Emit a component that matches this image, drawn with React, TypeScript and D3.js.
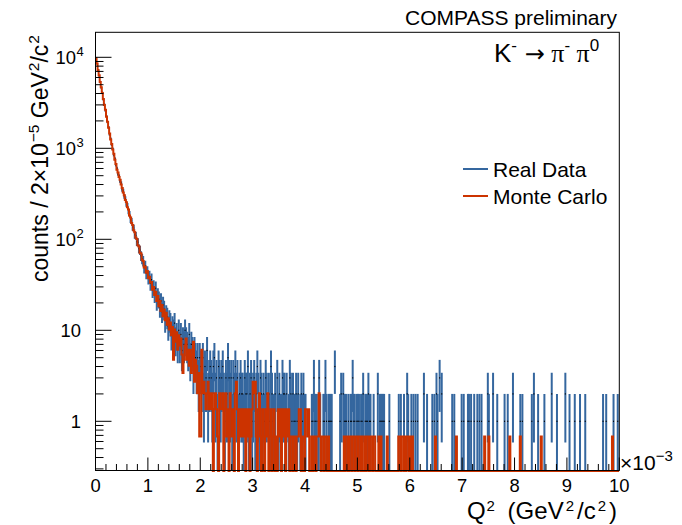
import React from 'react';
import * as d3 from 'd3';

// ---------- data (Q^2 in units of 1e-3 GeV^2/c^2, bin width 0.02) ----------
const X_MIN = 0;
const X_MAX = 10;
const BIN_WIDTH = 0.02;
const MC_WEIGHT = 0.679;

// Real data counts, bins 0..99 (Q^2 0 - 2)
const dataHead = [
  9810, 8470, 7320, 6240, 5420, 4610, 4120, 3420, 3060, 2580,
  2270, 1930, 1720, 1410, 1275, 1090, 991, 842, 770, 655,
  601, 522, 498, 436, 415, 352, 340, 296, 281, 243,
  236, 203, 191, 164, 159, 136, 133, 112, 110, 94,
  93, 79, 76, 66, 61, 58, 49, 51, 43, 44,
  38, 39, 33, 36, 28, 30, 25, 29, 21, 24,
  22, 18, 21, 16, 19, 17, 13, 15, 14, 11,
  13, 12, 9, 11, 10, 12, 8, 9, 7, 10,
  7, 9, 6, 8, 7, 10, 8, 7, 6, 9,
  5, 7, 6, 4, 6, 5, 4, 5, 3, 5,
];
// Real data counts, bins 100..499 (Q^2 2 - 10)
const dataTail = [
  4, 3, 5, 2, 4, 3, 6, 2, 3, 4, 3, 2, 4, 5, 2, 3, 1, 4, 3, 2,
  3, 4, 2, 1, 3, 2, 5, 3, 2, 3, 1, 3, 2, 4, 2, 3, 1, 2, 3, 2,
  2, 1, 3, 2, 2, 4, 1, 2, 3, 1, 2, 3, 1, 2, 4, 2, 1, 3, 2, 1,
  2, 1, 3, 2, 0, 2, 1, 4, 2, 1, 1, 2, 0, 3, 1, 2, 1, 1, 3, 2,
  2, 1, 2, 0, 1, 3, 2, 1, 2, 1, 1, 2, 1, 2, 0, 1, 2, 1, 2, 1,
  1, 0, 0, 0, 0, 0, 1, 1, 3, 1, 1, 0, 1, 3, 1, 0, 0, 1, 1, 3,
  1, 0, 1, 1, 1, 1, 0, 0, 4, 0, 0, 0, 0, 1, 2, 0, 2, 1, 1, 1,
  0, 1, 0, 1, 1, 3, 1, 1, 0, 1, 1, 1, 0, 1, 1, 2, 0, 1, 1, 1,
  2, 1, 1, 0, 0, 1, 0, 0, 0, 2, 0, 1, 1, 1, 1, 1, 0, 0, 0, 0,
  1, 0, 0, 0, 0, 0, 0, 0, 0, 1, 0, 1, 0, 0, 1, 0, 0, 2, 1, 0,
  0, 1, 0, 1, 0, 1, 0, 1, 0, 0, 0, 0, 0, 2, 0, 0, 1, 0, 0, 0,
  0, 1, 0, 1, 0, 2, 1, 0, 3, 0, 2, 0, 0, 0, 0, 0, 0, 0, 0, 0,
  1, 0, 1, 0, 0, 0, 0, 0, 0, 1, 0, 1, 0, 0, 0, 1, 1, 0, 1, 0,
  0, 1, 0, 0, 1, 0, 1, 0, 1, 0, 0, 0, 0, 0, 2, 1, 0, 0, 0, 2,
  0, 0, 0, 1, 0, 0, 0, 0, 0, 0, 1, 0, 0, 1, 0, 0, 0, 0, 2, 0,
  0, 0, 0, 0, 0, 1, 0, 1, 0, 0, 0, 0, 0, 0, 0, 0, 1, 0, 2, 0,
  0, 0, 1, 0, 0, 0, 0, 0, 1, 0, 0, 0, 0, 0, 0, 2, 0, 0, 0, 0,
  1, 0, 0, 0, 0, 0, 0, 0, 2, 0, 0, 0, 1, 0, 0, 0, 0, 1, 0, 0,
  0, 0, 1, 0, 0, 0, 0, 1, 0, 0, 0, 0, 0, 0, 0, 0, 0, 0, 0, 0,
  0, 0, 0, 0, 1, 0, 0, 1, 0, 0, 0, 0, 0, 0, 1, 0, 0, 0, 1, 0,
];
// Monte Carlo raw event counts (each weighted by MC_WEIGHT), bins 0..99
const mcHead = [
  14350, 12600, 10610, 9340, 7870, 6920, 5960, 5140, 4410, 3900,
  3270, 2890, 2480, 2145, 1840, 1645, 1425, 1280, 1105, 992,
  858, 798, 714, 665, 591, 541, 480, 450, 398, 376,
  331, 313, 269, 255, 223, 212, 185, 176, 154, 148,
  127, 123, 105, 103, 88, 85, 72, 74, 63, 66,
  55, 57, 49, 50, 41, 44, 36, 39, 31, 35,
  27, 31, 24, 28, 21, 25, 19, 23, 17, 20,
  15, 18, 13, 16, 7, 15, 11, 14, 9, 13,
  10, 12, 8, 5, 7, 10, 12, 7, 9, 6,
  9, 5, 8, 11, 4, 7, 6, 3, 5, 1,
];
// Monte Carlo raw event counts, bins 100..499
const mcTail = [
  1, 9, 3, 4, 3, 2, 3, 4, 2, 3, 2, 3, 0, 2, 3, 2, 1, 0, 3, 2,
  2, 3, 0, 2, 3, 1, 2, 0, 3, 2, 1, 2, 0, 3, 4, 2, 0, 1, 2, 1,
  2, 1, 2, 0, 2, 1, 2, 0, 1, 2, 4, 3, 4, 1, 0, 2, 3, 1, 0, 2,
  1, 0, 2, 1, 3, 0, 1, 2, 0, 1, 2, 0, 1, 0, 2, 1, 2, 0, 2, 1,
  2, 0, 2, 1, 2, 0, 1, 1, 0, 1, 1, 0, 1, 1, 2, 2, 0, 1, 0, 0,
  2, 2, 1, 2, 0, 0, 1, 0, 1, 1, 0, 1, 1, 3, 1, 0, 1, 1, 0, 1,
  1, 0, 1, 0, 0, 0, 0, 0, 0, 0, 0, 0, 0, 0, 0, 0, 0, 1, 0, 1,
  1, 0, 1, 1, 0, 1, 1, 0, 1, 1, 0, 1, 1, 0, 1, 0, 0, 1, 0, 1,
  1, 0, 1, 1, 0, 1, 1, 0, 0, 0, 1, 0, 1, 0, 0, 0, 0, 0, 1, 0,
  0, 0, 0, 0, 0, 0, 0, 0, 0, 1, 1, 0, 1, 1, 0, 1, 0, 1, 1, 0,
  1, 0, 1, 0, 0, 0, 0, 0, 0, 0, 0, 0, 0, 0, 0, 0, 0, 0, 0, 0,
  0, 0, 0, 0, 1, 0, 0, 0, 0, 0, 0, 0, 0, 0, 0, 0, 0, 0, 0, 0,
  0, 0, 0, 0, 1, 0, 0, 0, 0, 0, 0, 0, 0, 0, 0, 0, 0, 0, 0, 0,
  0, 0, 0, 0, 0, 0, 0, 0, 0, 0, 0, 1, 0, 0, 0, 1, 0, 0, 0, 0,
  0, 0, 0, 0, 0, 0, 0, 0, 0, 0, 0, 0, 0, 0, 0, 1, 0, 0, 0, 0,
  0, 0, 0, 0, 0, 1, 0, 0, 0, 0, 0, 0, 0, 0, 0, 0, 0, 0, 0, 0,
  0, 0, 0, 0, 0, 1, 0, 0, 0, 0, 0, 0, 0, 0, 0, 0, 0, 0, 0, 0,
  0, 0, 0, 0, 0, 0, 0, 0, 0, 0, 0, 0, 0, 0, 0, 0, 0, 0, 0, 0,
  0, 0, 0, 0, 0, 0, 0, 0, 0, 0, 0, 0, 0, 0, 0, 0, 0, 0, 0, 0,
  0, 0, 0, 0, 0, 0, 0, 0, 0, 0, 0, 0, 0, 1, 0, 0, 0, 0, 0, 0,
];

const xTickValues = [0, 1, 2, 3, 4, 5, 6, 7, 8, 9, 10];
const yTickValues = [1, 10, 100, 1000, 10000];
const yTickBase = ['1', '10', '10', '10', '10'];
const yTickExp = ['', '', '2', '3', '4'];
const legendLabels = ['Real Data', 'Monte Carlo'];

// ---------- style ----------
const W = 682;
const H = 525;
const FL = 95.5;
const FR = 619.3;
const FT = 32.3;
const FB = 470.5;
const Y_MIN = 0.288;
const Y_MAX = 18830;
const BLUE = '#35679f';
const RED = '#cc3300';
const FONT = "'Liberation Sans', Arial, Helvetica, sans-serif";
const SERIF = "'Liberation Serif', 'DejaVu Serif', serif";

export default function App() {
  const x = d3.scaleLinear().domain([X_MIN, X_MAX]).range([FL, FR]);
  const y = d3.scaleLog().domain([Y_MIN, Y_MAX]).range([FB, FT]);
  const yc = (v: number) => (v <= Y_MIN ? FB + 0.5 : y(v));

  const data = [...dataHead, ...dataTail];
  const mc = [...mcHead, ...mcTail].map((n) => n * MC_WEIGHT);
  const nBins = data.length;

  const mcPts: [number, number][] = mc.map((v, i) => [x(i * BIN_WIDTH), yc(v)]);
  mcPts.push([x(nBins * BIN_WIDTH), yc(mc[mc.length - 1])]);
  const stepLine = d3.line().curve(d3.curveStepAfter);
  const mcPath = stepLine(mcPts) || '';

  const minorY: number[] = [];
  for (let e = -1; e <= 4; e++) {
    for (let k = 2; k <= 9; k++) {
      const v = k * Math.pow(10, e);
      if (v >= Y_MIN && v <= Y_MAX) minorY.push(v);
    }
  }
  const minorX: number[] = [];
  for (let v = X_MIN; v <= X_MAX + 1e-9; v += 0.2) {
    const r = Math.round(v * 10) / 10;
    if (Math.abs(r - Math.round(r)) > 1e-6) minorX.push(r);
  }

  return (
    <svg width={W} height={H} style={{ position: 'absolute', left: 0, top: 0, background: '#fff' }}
      fontFamily={FONT}>
      <defs>
        <clipPath id="frameClip">
          <rect x={FL} y={FT} width={FR - FL} height={FB - FT + 1.5} />
        </clipPath>
      </defs>
      <rect x={0} y={0} width={W} height={H} fill="#fff" />

      <g clipPath="url(#frameClip)">
        {/* data error bars */}
        {data.map((n, i) => {
          if (n <= 0) return null;
          const xc = x((i + 0.5) * BIN_WIDTH);
          const e = Math.sqrt(n);
          return (
            <line key={'e' + i} x1={xc} x2={xc} y1={yc(n - e)} y2={yc(n + e)}
              stroke={BLUE} strokeWidth={2} />
          );
        })}
        {data.map((n, i) => {
          if (n <= 0) return null;
          const x0 = x(i * BIN_WIDTH);
          return (
            <rect key={'m' + i} x={x0} y={y(n) - 0.6} width={x(BIN_WIDTH) - x(0)} height={1.2}
              fill="#000" />
          );
        })}
        {/* Monte Carlo histogram */}
        <path d={mcPath} fill="none" stroke={RED} strokeWidth={2} />
      </g>

      {/* frame */}
      <rect x={FL} y={FT} width={FR - FL} height={FB - FT} fill="none" stroke="#000" strokeWidth={1} />

      {/* y ticks */}
      {yTickValues.map((v) => (
        <line key={'yt' + v} x1={FL} x2={FL + 16} y1={y(v)} y2={y(v)} stroke="#000" strokeWidth={1} />
      ))}
      {minorY.map((v) => (
        <line key={'ym' + v} x1={FL} x2={FL + 8} y1={y(v)} y2={y(v)} stroke="#000" strokeWidth={1} />
      ))}
      {yTickValues.map((v, i) => (
        <text key={'yl' + v} x={yTickExp[i] ? 76 : 81} y={y(v) + 7} fontSize={18.4} textAnchor="end">
          {yTickBase[i]}
        </text>
      ))}
      {yTickValues.map((v, i) =>
        yTickExp[i] ? (
          <text key={'ye' + v} x={76.5} y={y(v) - 1} fontSize={13} textAnchor="start">
            {yTickExp[i]}
          </text>
        ) : null
      )}

      {/* x ticks */}
      {xTickValues.map((v) => (
        <line key={'xt' + v} x1={x(v)} x2={x(v)} y1={FB} y2={FB - 13} stroke="#000" strokeWidth={1} />
      ))}
      {minorX.map((v) => (
        <line key={'xm' + v} x1={x(v)} x2={x(v)} y1={FB} y2={FB - 6.5} stroke="#000" strokeWidth={1} />
      ))}
      {xTickValues.map((v) => (
        <text key={'xl' + v} x={x(v)} y={492} fontSize={18.4} textAnchor="middle">
          {v}
        </text>
      ))}
      <text x={620} y={470} fontSize={21}>
        ×10<tspan dy={-9} fontSize={15}>−3</tspan>
      </text>

      {/* axis titles */}
      <text x={617} y={518.5} fontSize={24} textAnchor="end">
        Q<tspan dx={1} dy={-8} fontSize={15}>2</tspan>
        <tspan dx={6} dy={8}> (GeV</tspan>
        <tspan dx={2} dy={-8} fontSize={15}>2</tspan>
        <tspan dx={3} dy={8}>/c</tspan>
        <tspan dx={2} dy={-8} fontSize={15}>2</tspan>
        <tspan dx={3} dy={8}>)</tspan>
      </text>
      <text transform="translate(48,35) rotate(-90)" fontSize={23} textAnchor="end">
        counts / 2×10<tspan dx={1} dy={-9} fontSize={15.5}>−5</tspan>
        <tspan dy={9}> GeV</tspan>
        <tspan dx={1} dy={-9} fontSize={15.5}>2</tspan>
        <tspan dy={9}>/c</tspan>
        <tspan dx={1} dy={-9} fontSize={15.5}>2</tspan>
      </text>

      {/* header texts */}
      <text x={617} y={25} fontSize={21} textAnchor="end">COMPASS preliminary</text>
      <text x={494} y={62} fontSize={26}>
        K<tspan dy={-11} fontSize={17}>-</tspan>
        <tspan dy={11} fontFamily="'DejaVu Sans', sans-serif" fontSize={24}> →</tspan>
        <tspan fontFamily={SERIF}> π</tspan>
        <tspan dy={-11} fontSize={17}>-</tspan>
        <tspan dy={11} fontFamily={SERIF}> π</tspan>
        <tspan dy={-11} fontSize={17}>0</tspan>
      </text>

      {/* legend */}
      {legendLabels.map((lab, i) => (
        <g key={lab}>
          <line x1={463} x2={488} y1={169 + i * 27} y2={169 + i * 27} stroke={i === 0 ? BLUE : RED}
            strokeWidth={2} />
          <text x={493} y={177 + i * 27} fontSize={21}>{lab}</text>
        </g>
      ))}
    </svg>
  );
}
